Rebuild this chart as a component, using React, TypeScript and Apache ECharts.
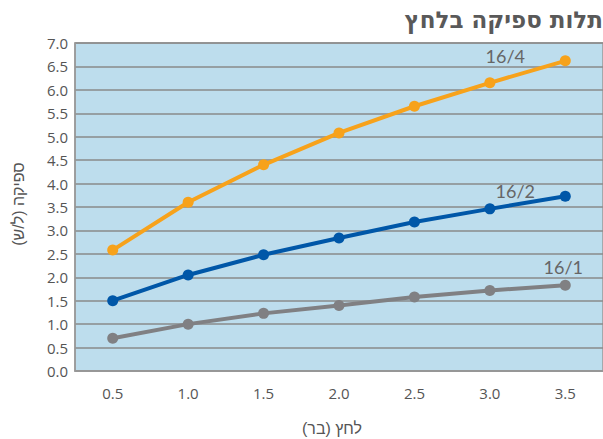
import React, { useEffect, useRef } from "react";
import * as echarts from "echarts";

const categories = ["0.5", "1.0", "1.5", "2.0", "2.5", "3.0", "3.5"];
const series164 = [2.58, 3.6, 4.4, 5.08, 5.65, 6.15, 6.62];
const series162 = [1.5, 2.05, 2.48, 2.84, 3.18, 3.46, 3.73];
const series161 = [0.7, 1.0, 1.23, 1.4, 1.58, 1.72, 1.83];
const seriesNames = ["16/4", "16/2", "16/1"];
const title = "תלות ספיקה בלחץ";
const xName = "לחץ (בר)\u200F";
const yName = "ספיקה (ל/ש)\u200F";

const numFont = "'Open Sans', Lato, 'DejaVu Sans', sans-serif";
const lblFont = "Lato, 'DejaVu Sans', sans-serif";
const hebFont = "'Liberation Sans', 'DejaVu Sans', sans-serif";
const titleFont = "'DejaVu Sans', 'Liberation Sans', sans-serif";

function withEndLabel(values: number[], text: string, offset: number[]) {
  return values.map((v, i) =>
    i === values.length - 1
      ? {
          value: v,
          label: {
            show: true,
            formatter: text,
            position: "inside",
            offset,
            color: "#666666",
            fontSize: 18,
            fontFamily: lblFont,
          },
        }
      : v
  );
}

export default function App() {
  const ref = useRef<HTMLDivElement>(null);
  useEffect(() => {
    if (!ref.current) return;
    const chart = echarts.init(ref.current, undefined, { renderer: "svg" });
    const lineSeries = (name: string, data: any[], color: string) => ({
      name,
      type: "line",
      data,
      symbol: "circle",
      symbolSize: 11,
      lineStyle: { color, width: 4 },
      itemStyle: { color },
      label: { show: false },
      z: 3,
    });
    chart.setOption({
      animation: false,
      graphic: [
        {
          type: "text",
          right: 0,
          top: 8,
          style: {
            text: title,
            font: `bold 23px ${titleFont}`,
            fill: "#595959",
          },
        },
        {
          type: "text",
          x: 332,
          y: 428,
          style: {
            text: xName,
            font: `16px ${hebFont}`,
            fill: "#555555",
            textAlign: "center",
            textVerticalAlign: "middle",
          },
        },
        {
          type: "text",
          x: 18,
          y: 204,
          rotation: Math.PI / 2,
          style: {
            text: yName,
            font: `16px ${hebFont}`,
            fill: "#555555",
            textAlign: "center",
            textVerticalAlign: "middle",
          },
        },
      ],
      grid: {
        left: 75,
        top: 43,
        right: -9,
        bottom: 68,
        show: true,
        backgroundColor: "#BDDDED",
        borderColor: "#999999",
        borderWidth: 1.5,
      },
      xAxis: {
        type: "category",
        data: categories,
        boundaryGap: true,
        axisLine: { show: true, lineStyle: { color: "#999999", width: 1.5 } },
        axisTick: { show: false },
        axisLabel: {
          color: "#555555",
          fontSize: 15,
          fontFamily: numFont,
          margin: 14,
        },
      },
      yAxis: {
        type: "value",
        min: 0,
        max: 7,
        interval: 0.5,
        axisLine: { show: true, lineStyle: { color: "#999999", width: 1.5 } },
        axisTick: { show: false },
        axisLabel: {
          color: "#555555",
          fontSize: 15,
          fontFamily: numFont,
          margin: 7,
          formatter: (v: number) => v.toFixed(1),
        },
        splitLine: { show: true, lineStyle: { color: "#8A8A8A", width: 1.5 } },
      },
      series: [
        lineSeries(seriesNames[0], withEndLabel(series164, seriesNames[0], [-60, -5]), "#F7A21B"),
        lineSeries(seriesNames[1], withEndLabel(series162, seriesNames[1], [-50, -5]), "#0057A8"),
        lineSeries(seriesNames[2], withEndLabel(series161, seriesNames[2], [-2, -18]), "#808083"),
      ],
    });
    return () => chart.dispose();
  }, []);
  return (
    <div
      ref={ref}
      style={{ position: "absolute", left: 0, top: 0, width: 603, height: 439 }}
    />
  );
}
